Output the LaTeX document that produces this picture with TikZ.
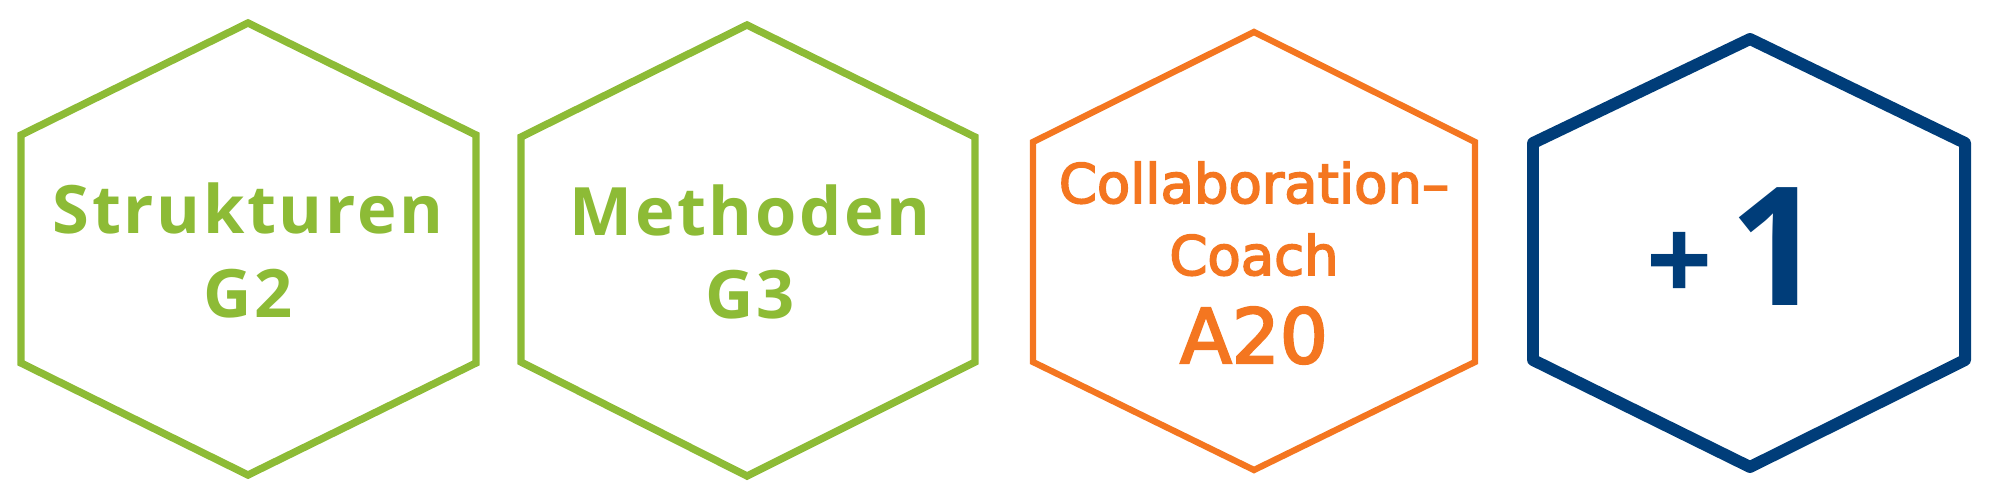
\documentclass[tikz,border=0pt]{standalone}
\usepackage{fontspec}
\setmainfont{Open Sans}
\newfontfamily\greenfont{Open Sans}[LetterSpace=4]
\newfontfamily\coachfont{DejaVu Sans}[FakeBold=3]
\definecolor{grn}{RGB}{141,187,54}
\definecolor{orng}{RGB}{244,118,32}
\definecolor{blu}{RGB}{0,61,121}

\begin{document}
\begin{tikzpicture}[x=0.02cm,y=-0.02cm,
    hexgreen/.style={draw=grn,line width=4.2pt},
    hexorange/.style={draw=orng,line width=3.6pt},
    hexblue/.style={draw=blu,line width=6.8pt,line join=round},
    greentext/.style={text=grn,font=\greenfont\bfseries\fontsize{38}{46}\selectfont,anchor=base,inner sep=0pt},
    orangetext/.style={text=orng,font=\coachfont\fontsize{31}{38}\selectfont,anchor=base,inner sep=0pt}]
    \useasboundingbox (0,0) rectangle (2000,500);
    % hexagons
    \draw[hexgreen] (248,23) -- (476,135) -- (476,363) -- (248,475) -- (21,363) -- (21,135) -- cycle;
    \draw[hexgreen] (747,25) -- (975,137) -- (975,362) -- (747,476) -- (521,362) -- (521,137) -- cycle;
    \draw[hexorange] (1254,32) -- (1475,142) -- (1475,362) -- (1254,470) -- (1033,362) -- (1033,142) -- cycle;
    \draw[hexblue] (1750,39) -- (1965,143) -- (1965,360) -- (1750,467) -- (1533,360) -- (1533,143) -- cycle;
    % labels
    \node[greentext] (struk) at (248,233) {Strukturen};
    \node[greentext] (gtwo) at (248,317) {G2};
    \node[greentext] (meth) at (750,235) {Methoden};
    \node[greentext] (gthree) at (750,318) {G3};
    \node[orangetext] (collab) at (1254,203) {Collaboration–};
    \node[orangetext] (coach) at (1254,275) {Coach};
    \node[orangetext,font=\coachfont\fontsize{43}{50}\selectfont] (atwenty) at (1254,363) {A20};
    \node[text=blu,anchor=base,inner sep=0pt,font=\bfseries\fontsize{94}{100}\selectfont] (plusone) at (1735,305)
        {\raisebox{2pt}{\fontsize{66}{72}\selectfont+}\hspace{10pt}1};
\end{tikzpicture}
\end{document}
